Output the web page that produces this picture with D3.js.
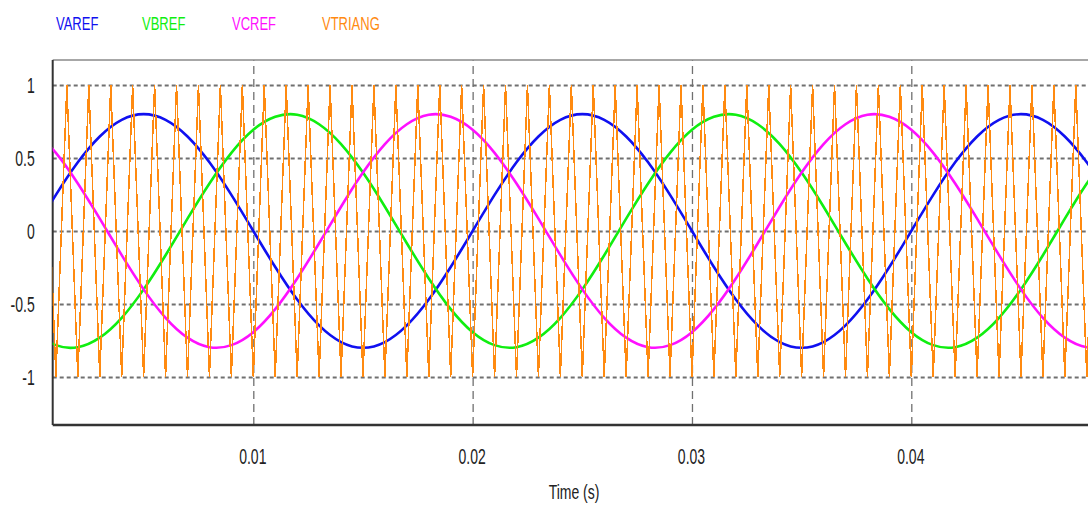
<!doctype html>
<html>
<head>
	<style>
		body{margin:0;background:#fff;}
		text{font-family:"Liberation Sans", Arial, sans-serif;}
		.grid line{stroke:#707070;}
		.grid path{display:none;}
	</style>
</head>
<body>
	<div id="root"></div>
	<script src="https://d3js.org/d3.v7.min.js"></script>
	<script>

		var sineTimeMs = [0,1,2,3,4,5,6,7,8,9,10,11,12,13,14,15,16,17,18,19,
			20,21,22,23,24,25,26,27,28,29,30,31,32,33,34,35,36,37,38,39,
			40,41,42,43,44,45,46,47,48,49];

		var varef = [0,.247,.470,.647,.761,.8,.761,.647,.470,.247,0,-.247,-.470,-.647,-.761,-.8,-.761,-.647,-.470,-.247,
			0,.247,.470,.647,.761,.8,.761,.647,.470,.247,0,-.247,-.470,-.647,-.761,-.8,-.761,-.647,-.470,-.247,
			0,.247,.470,.647,.761,.8,.761,.647,.470,.247];

		var vbref = [-.693,-.782,-.796,-.731,-.595,-.4,-.166,.084,.325,.535,.693,.782,.796,.731,.595,.4,.166,-.084,-.325,-.535,
			-.693,-.782,-.796,-.731,-.595,-.4,-.166,.084,.325,.535,.693,.782,.796,.731,.595,.4,.166,-.084,-.325,-.535,
			-.693,-.782,-.796,-.731,-.595,-.4,-.166,.084,.325,.535];

		var vcref = [.693,.535,.325,.084,-.166,-.4,-.595,-.731,-.796,-.782,-.693,-.535,-.325,-.084,.166,.4,.595,.731,.796,.782,
			.693,.535,.325,.084,-.166,-.4,-.595,-.731,-.796,-.782,-.693,-.535,-.325,-.084,.166,.4,.595,.731,.796,.782,
			.693,.535,.325,.084,-.166,-.4,-.595,-.731,-.796,-.782];

		// triangle carrier corners (ms)
		var triTimeMs = [0,0.5,1,1.5,2,2.5,3,3.5,4,4.5,5,5.5,6,6.5,7,7.5,8,8.5,9,9.5,
			10,10.5,11,11.5,12,12.5,13,13.5,14,14.5,15,15.5,16,16.5,17,17.5,18,18.5,19,19.5,
			20,20.5,21,21.5,22,22.5,23,23.5,24,24.5,25,25.5,26,26.5,27,27.5,28,28.5,29,29.5,
			30,30.5,31,31.5,32,32.5,33,33.5,34,34.5,35,35.5,36,36.5,37,37.5,38,38.5,39,39.5,
			40,40.5,41,41.5,42,42.5,43,43.5,44,44.5,45,45.5,46,46.5,47,47.5,48,48.5,49];
		var vtriang = [-1,1,-1,1,-1,1,-1,1,-1,1,-1,1,-1,1,-1,1,-1,1,-1,1,
			-1,1,-1,1,-1,1,-1,1,-1,1,-1,1,-1,1,-1,1,-1,1,-1,1,
			-1,1,-1,1,-1,1,-1,1,-1,1,-1,1,-1,1,-1,1,-1,1,-1,1,
			-1,1,-1,1,-1,1,-1,1,-1,1,-1,1,-1,1,-1,1,-1,1,-1,1,
			-1,1,-1,1,-1,1,-1,1,-1,1,-1,1,-1,1,-1,1,-1,1,-1];

		var seriesNames = ['VAREF', 'VBREF', 'VCREF', 'VTRIANG'];
		var seriesColors = ['#1010f0', '#10ee10', '#ff10ff', '#ff8a10'];

		var xTicks = [0.01, 0.02, 0.03, 0.04];
		var xTickLabels = ['0.01', '0.02', '0.03', '0.04'];
		var yTicks = [-1, -0.5, 0, 0.5, 1];
		var yTickLabels = ['-1', '-0.5', '0', '0.5', '1'];

		var W = 1088, H = 507;
		var L = 52.7, R = 1088, T = 60, B = 425;

		var x = d3.scaleLinear().domain([0.000854, 0.048056]).range([L, R]);
		var y = d3.scaleLinear().domain([-1.329, 1.171]).range([B, T]);

		var svg = d3.select('#root').append('svg')
			.attr('width', W)
			.attr('height', H);

		svg.append('clipPath').attr('id', 'clip')
			.append('rect')
			.attr('x', L).attr('y', T)
			.attr('width', R - L).attr('height', B - T);

		// horizontal grid + y labels
		var yAxis = svg.append('g')
			.attr('class', 'grid')
			.attr('transform', 'translate(' + L + ',0)')
			.call(d3.axisLeft(y)
				.tickValues(yTicks)
				.tickSize(-(R - L))
				.tickFormat(function(d, i){ return yTickLabels[i]; }));
		yAxis.selectAll('line')
			.attr('stroke', '#7a7a7a')
			.attr('stroke-width', 2)
			.attr('stroke-dasharray', '4,3');
		yAxis.selectAll('text')
			.attr('x', 0)
			.attr('dy', '.35em')
			.attr('transform', 'translate(-18,0) scale(1,1.6)')
			.attr('fill', '#222')
			.style('font-size', '14px');

		// vertical grid + x labels
		var xAxis = svg.append('g')
			.attr('class', 'grid')
			.attr('transform', 'translate(0,' + B + ')')
			.call(d3.axisBottom(x)
				.tickValues(xTicks)
				.tickSize(-(B - T))
				.tickFormat(function(d, i){ return xTickLabels[i]; }));
		xAxis.selectAll('line')
			.attr('stroke', '#555')
			.attr('stroke-width', 1.3)
			.attr('stroke-dasharray', '8,5');
		xAxis.selectAll('text')
			.attr('y', 0)
			.attr('dy', '.35em')
			.attr('transform', 'translate(-1,31) scale(1,1.6)')
			.attr('fill', '#222')
			.style('font-size', '14px');

		// frame
		svg.append('line').attr('x1', L).attr('x2', R).attr('y1', T).attr('y2', T)
			.attr('stroke', '#8a8a8a').attr('stroke-width', 1.5);
		svg.append('line').attr('x1', L).attr('x2', L).attr('y1', T).attr('y2', B)
			.attr('stroke', '#333').attr('stroke-width', 2);
		svg.append('line').attr('x1', L).attr('x2', R).attr('y1', B).attr('y2', B)
			.attr('stroke', '#333').attr('stroke-width', 2.5);

		var plot = svg.append('g').attr('clip-path', 'url(#clip)');

		var sineLine = d3.line()
			.x(function(d){ return x(d[0] / 1000); })
			.y(function(d){ return y(d[1]); })
			.curve(d3.curveNatural);

		[varef, vbref, vcref].forEach(function(vals, k){
			plot.append('path')
				.datum(d3.zip(sineTimeMs, vals))
				.attr('d', sineLine)
				.attr('fill', 'none')
				.attr('stroke', seriesColors[k])
				.attr('stroke-width', 2.6);
		});

		var triLine = d3.line()
			.x(function(d){ return x(d[0] / 1000); })
			.y(function(d){ return y(d[1]); });

		// aliased like the simulator plot
		plot.append('path')
			.datum(d3.zip(triTimeMs, vtriang))
			.attr('d', triLine)
			.attr('fill', 'none')
			.attr('stroke', seriesColors[3])
			.attr('stroke-width', 1.5)
			.attr('shape-rendering', 'crispEdges');

		// legend
		var legendX = [56, 142, 232, 322];
		svg.selectAll('.legend')
			.data(seriesNames)
			.enter().append('text')
			.attr('class', 'legend')
			.attr('dy', '.35em')
			.attr('transform', function(d, i){ return 'translate(' + legendX[i] + ',23.5) scale(1,1.45)'; })
			.attr('fill', function(d, i){ return seriesColors[i]; })
			.style('font-size', '13px')
			.text(function(d){ return d; });

		svg.append('text')
			.attr('text-anchor', 'middle')
			.attr('dy', '.35em')
			.attr('transform', 'translate(574,492) scale(1,1.5)')
			.attr('fill', '#222')
			.style('font-size', '14px')
			.text('Time (s)');
	</script>
</body>
</html>
